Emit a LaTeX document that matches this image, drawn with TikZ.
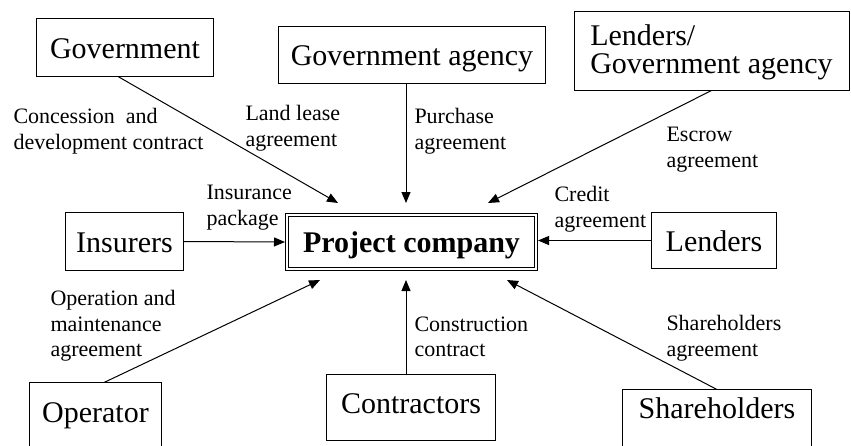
\documentclass[tikz,border=0pt]{standalone}
\usepackage{fontspec}
\setmainfont{Liberation Serif}
\usetikzlibrary{arrows.meta}
\tikzset{
     mainNode/.style =
        { rectangle
        , draw
        , inner sep=0pt
        , outer sep=0pt
        , text height=21pt
        , text depth=0pt
        , font=\fontsize{30}{28}\selectfont
        }
   , bottomNode/.style =
        { mainNode
        , anchor=north
        , text depth=60pt
        }
   , edgeLabel/.style =
        { anchor=north west
        , inner sep=0pt
        , align=left
        , font=\fontsize{22}{25.5}\selectfont
        }
}

\begin{document}
\begin{tikzpicture}
            [ x=1pt
            , y=-1pt
            , ->
            , >={Triangle[length=11pt,width=9pt]}
            , line width=1pt
            ]
            \useasboundingbox (0,0) rectangle (851,445);

            % parties round the company
            \node[mainNode, minimum width=177pt, minimum height=58pt] (gov) at (125,47.5) {Government};
            \node[mainNode, minimum width=267pt, minimum height=57pt] (agency) at (412,55) {Government agency};
            \node[mainNode, minimum width=275pt, minimum height=79pt, align=left, text height=44pt] (lendGov) at (711.5,51) {Lenders/\\Government agency};
            \node[mainNode, minimum width=118pt, minimum height=58pt] (insurers) at (124.5,241.5) {Insurers};
            \node[mainNode, double, double distance=2pt, minimum width=249pt, minimum height=54pt
                 , font=\fontsize{30}{28}\selectfont\bfseries] (project) at (411.5,242) {Project company};
            \node[mainNode, minimum width=125pt, minimum height=56pt] (lenders) at (714,240.5) {Lenders};
            \node[bottomNode, minimum width=132pt, text height=39.5pt] (operator) at (95.5,382.5) {Operator};
            \node[mainNode, minimum width=169pt, minimum height=66pt, text depth=10pt] (contractors) at (411,407.5) {Contractors};
            \node[bottomNode, minimum width=189pt, text height=28.5pt] (holders) at (717,389.5) {Shareholders};

            % contract names
            \node[edgeLabel] (lblConcession) at (13,108) {Concession~~and\\development contract};
            \node[edgeLabel] (lblLease) at (245,105) {Land lease\\agreement};
            \node[edgeLabel] (lblPurchase) at (414,108) {Purchase\\agreement};
            \node[edgeLabel] (lblEscrow) at (666,127) {Escrow\\agreement};
            \node[edgeLabel] (lblInsurance) at (206,185) {Insurance\\package};
            \node[edgeLabel] (lblCredit) at (554,186) {Credit\\agreement};
            \node[edgeLabel] (lblOperation) at (50,290) {Operation and\\maintenance\\agreement};
            \node[edgeLabel] (lblConstruction) at (414,316) {Construction\\contract};
            \node[edgeLabel] (lblHolders) at (666,315) {Shareholders\\agreement};

            \path
            ([xshift=-7pt]gov.south) edge ([shift={(-73.5pt,12pt)}]project.north)
            ([xshift=-6pt]agency.south) edge ([shift={(-5.5pt,12pt)}]project.north)
            (lendGov.south) edge ([shift={(76.5pt,12pt)}]project.north)

            (insurers.east) edge [shorten >=2pt] (project.west)
            (lenders.west) edge [shorten >=2pt] (lenders.west -| project.east)

            ([xshift=8.5pt]operator.north) edge ([shift={(-91.5pt,-11pt)}]project.south)
            ([xshift=-5pt]contractors.north) edge ([shift={(-5.5pt,-11pt)}]project.south)
            (holders.north) edge ([shift={(95.5pt,-11pt)}]project.south)
            ;
\end{tikzpicture}
\end{document}
